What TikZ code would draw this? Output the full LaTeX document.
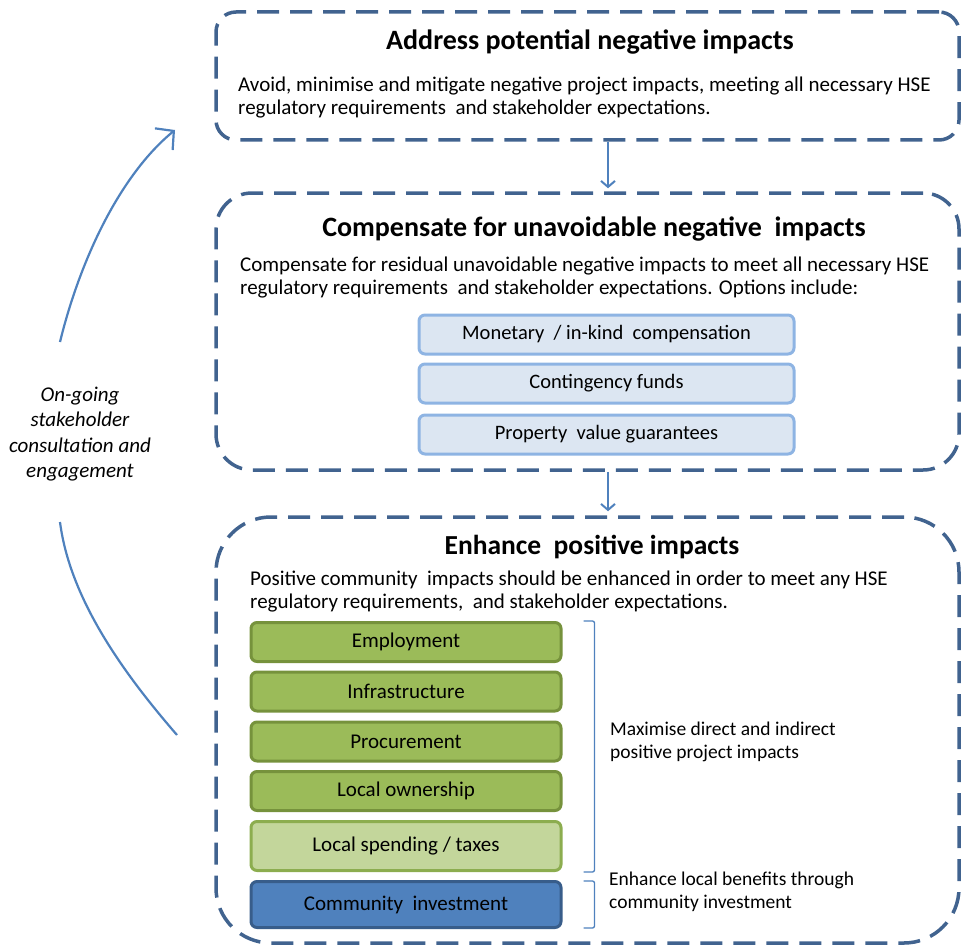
\documentclass[tikz,border=0pt]{standalone}
\usepackage{fontspec}
\setmainfont{Carlito}
\usetikzlibrary{arrows.meta}
\definecolor{dashblue}{HTML}{41638F}
\definecolor{arrowblue}{HTML}{4F81BD}
\definecolor{optfill}{HTML}{DCE6F2}
\definecolor{optdraw}{HTML}{8EB4E3}
\definecolor{greenfill}{HTML}{9BBB59}
\definecolor{greendraw}{HTML}{76923C}
\definecolor{lgreenfill}{HTML}{C3D69B}
\definecolor{lgreendraw}{HTML}{8CAD4F}
\definecolor{bluefill}{HTML}{4F81BD}
\definecolor{bluedraw}{HTML}{385D8A}
\begin{document}
\begin{tikzpicture}[x=1pt,y=-1pt,
  bigbox/.style={draw=dashblue, line width=3.5pt, dash pattern=on 22pt off 11pt, minimum width=743pt, inner sep=0pt},
  optbox/.style={draw=optdraw, fill=optfill, line width=3pt, rounded corners=6pt, minimum width=375pt, minimum height=39pt, inner sep=0pt, font=\fontsize{20.5}{23}\selectfont},
  greenbox/.style={draw=greendraw, fill=greenfill, line width=3pt, rounded corners=6pt, minimum width=310pt, minimum height=39pt, inner sep=0pt, font=\fontsize{21}{23}\selectfont},
  lgreenbox/.style={greenbox, draw=lgreendraw, fill=lgreenfill, minimum height=49pt},
  bluebox/.style={greenbox, draw=bluedraw, fill=bluefill, minimum height=46pt},
  bodytext/.style={anchor=west, align=left, inner sep=0pt, font=\fontsize{21}{23.5}\selectfont},
  titletext/.style={inner sep=0pt, font=\fontsize{28}{30}\selectfont\bfseries},
  sidetext/.style={align=center, inner sep=0pt, font=\fontsize{21}{25.5}\selectfont\itshape},
  brktext/.style={anchor=west, align=left, inner sep=0pt, font=\fontsize{19.5}{23}\selectfont},
  flowarrow/.style={draw=arrowblue, line width=2pt, -{Straight Barb[length=6pt,width=14pt]}},
  cyclearrow/.style={draw=arrowblue, line width=2.2pt},
  brk/.style={draw=arrowblue, line width=1.3pt, rounded corners=2pt}
]
\useasboundingbox (0,0) rectangle (961,947);

% big dashed boxes
\node[bigbox, rounded corners=20pt, minimum height=128pt] (box1) at (587.5,76) {};
\node[bigbox, rounded corners=36pt, minimum height=277pt] (box2) at (587.5,331.5) {};
\node[bigbox, rounded corners=55pt, minimum height=426pt] (box3) at (587.5,730) {};

% titles and body text
\node[titletext] (t1) at (590,42) {Address potential negative impacts};
\node[bodytext] (b1) at (238,97.5) {Avoid, minimise and mitigate negative project impacts, meeting all necessary HSE\\regulatory requirements\ \ and stakeholder expectations.};

\node[titletext] (t2) at (594,229) {Compensate for unavoidable negative\ \ impacts};
\node[bodytext] (b2) at (240,277.5) {Compensate for residual unavoidable negative impacts to meet all necessary HSE\\regulatory requirements\ \ and stakeholder expectations. Options include:};

\node[titletext, font=\fontsize{27.5}{30}\selectfont\bfseries] (t3) at (592,547) {Enhance\ \ positive impacts};
\node[bodytext] (b3) at (250,591.5) {Positive community\ \ impacts should be enhanced in order to meet any HSE\\regulatory requirements,\ \ and stakeholder expectations.};

% option boxes
\node[optbox] (o1) at (606.5,334.5) {Monetary\ \ / in-kind\ \ compensation};
\node[optbox] (o2) at (606.5,383.5) {Contingency funds};
\node[optbox] (o3) at (606.5,434.5) {Property\ \ value guarantees};

% positive impact boxes
\node[greenbox] (g1) at (406,642) {Employment};
\node[greenbox] (g2) at (406,691.5) {Infrastructure};
\node[greenbox] (g3) at (406,741.5) {Procurement};
\node[greenbox] (g4) at (406,791) {Local ownership};
\node[lgreenbox] (g5) at (406,846) {Local spending / taxes};
\node[bluebox] (g6) at (406,904.5) {Community\ \ investment};

% brackets
\draw[brk] ([xshift=21pt]g1.north east) -- ([xshift=32pt]g1.north east) -- ([xshift=32pt]g5.south east) -- ([xshift=21pt]g5.south east);
\draw[brk] ([xshift=21pt,yshift=-1pt]g6.north east) -- ([xshift=32pt,yshift=-1pt]g6.north east) -- ([xshift=32pt,yshift=1pt]g6.south east) -- ([xshift=21pt,yshift=1pt]g6.south east);
\node[brktext] (m1) at (610,741.5) {Maximise direct and indirect\\positive project impacts};
\node[brktext] (m2) at (609,891.5) {Enhance local benefits through\\community investment};

% flow arrows
\draw[flowarrow] ([xshift=20.5pt]box1.south) -- ([xshift=20.5pt,yshift=3pt]box2.north);
\draw[flowarrow] ([xshift=20.5pt]box2.south) -- ([xshift=20.5pt,yshift=4pt]box3.north);

% cycle
\node[sidetext] (side) at (80,434) {On-going\\stakeholder\\consultation and\\engagement};
\coordinate (a1s) at (60,342);
\coordinate (a1e) at (175,130);
\coordinate (a2s) at (60,522);
\coordinate (a2e) at (177,735);
\draw[cyclearrow, -{Straight Barb[length=13pt,width=28pt]}] (a1s) .. controls (80,260) and (120,175) .. (a1e);
\draw[cyclearrow] (a2s) .. controls (70,600) and (125,675) .. (a2e);
\end{tikzpicture}
\end{document}
